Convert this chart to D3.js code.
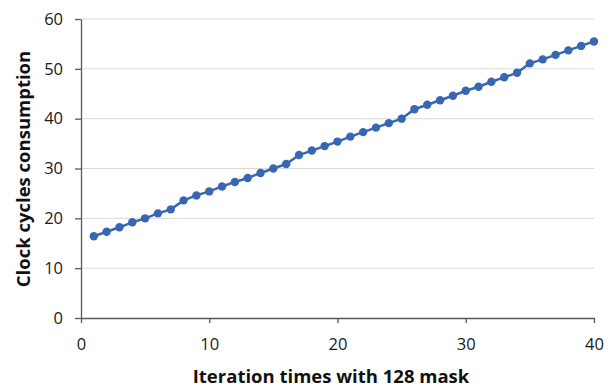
<!DOCTYPE html>
<html>
<head>
<meta charset="utf-8">
<script src="https://cdn.jsdelivr.net/npm/d3@7"></script>
<style>
  body { margin: 0; background: #fff; }
  svg { display: block; }
  .axis text { font-family: "Open Sans", "Liberation Sans", sans-serif; font-size: 16.5px; fill: #1a1a1a; }
  .title { font-family: "Open Sans", "Liberation Sans", sans-serif; font-size: 18.5px; font-weight: bold; fill: #111; }
</style>
</head>
<body>
<div id="chart"></div>
<script>
// iteration index (x) and measured clock cycles (y)
const iterations = d3.range(1, 41);
const cycles = [
  16.4, 17.3, 18.2, 19.2, 20.0, 21.0, 21.8, 23.6, 24.6, 25.4,
  26.4, 27.3, 28.1, 29.1, 30.0, 30.9, 32.7, 33.6, 34.5, 35.4,
  36.4, 37.3, 38.2, 39.1, 40.0, 41.9, 42.8, 43.7, 44.6, 45.6,
  46.4, 47.4, 48.3, 49.2, 51.1, 51.9, 52.8, 53.7, 54.6, 55.5
];
const xTicks = [0, 10, 20, 30, 40];
const yTicks = [0, 10, 20, 30, 40, 50, 60];

const width = 614, height = 387;
const margin = {top: 19, right: 20, bottom: 69, left: 81};

const svg = d3.select("#chart").append("svg")
  .attr("width", width)
  .attr("height", height);

const x = d3.scaleLinear().domain([0, 40]).range([margin.left, width - margin.right]);
const y = d3.scaleLinear().domain([0, 60]).range([height - margin.bottom, margin.top]);

// gridlines
svg.append("g")
  .selectAll("line")
  .data(yTicks.filter(d => d > 0))
  .enter().append("line")
    .attr("x1", x(0)).attr("x2", x(40))
    .attr("y1", d => y(d)).attr("y2", d => y(d))
    .attr("stroke", "#d9d9d9")
    .attr("stroke-width", 1);

const xAxis = svg.append("g")
  .attr("class", "axis")
  .attr("transform", "translate(0," + y(0) + ")")
  .call(d3.axisBottom(x).tickValues(xTicks).tickSize(5).tickSizeOuter(0).tickPadding(15));

const yAxis = svg.append("g")
  .attr("class", "axis")
  .attr("transform", "translate(" + x(0) + ",0)")
  .call(d3.axisLeft(y).tickValues(yTicks).tickSize(6).tickSizeOuter(0).tickPadding(12));

[xAxis, yAxis].forEach(a => {
  a.select(".domain").attr("stroke", "#595959").attr("stroke-width", 1.3);
  a.selectAll(".tick line").attr("stroke", "#595959").attr("stroke-width", 1.3);
});

const pts = iterations.map((d, i) => ({it: d, v: cycles[i]}));

const line = d3.line()
  .x(d => x(d.it))
  .y(d => y(d.v));

svg.append("path")
  .datum(pts)
  .attr("fill", "none")
  .attr("stroke", "#3867b1")
  .attr("stroke-width", 2.5)
  .attr("d", line);

svg.append("g")
  .selectAll("circle")
  .data(pts)
  .enter().append("circle")
    .attr("cx", d => x(d.it))
    .attr("cy", d => y(d.v))
    .attr("r", 4.2)
    .attr("fill", "#3867b1");

svg.append("text")
  .attr("class", "title")
  .attr("x", 331)
  .attr("y", 383)
  .attr("text-anchor", "middle")
  .text("Iteration times with 128 mask");

svg.append("text")
  .attr("class", "title")
  .attr("transform", "translate(30,169) rotate(-90)")
  .attr("text-anchor", "middle")
  .text("Clock cycles consumption");
</script>
</body>
</html>
